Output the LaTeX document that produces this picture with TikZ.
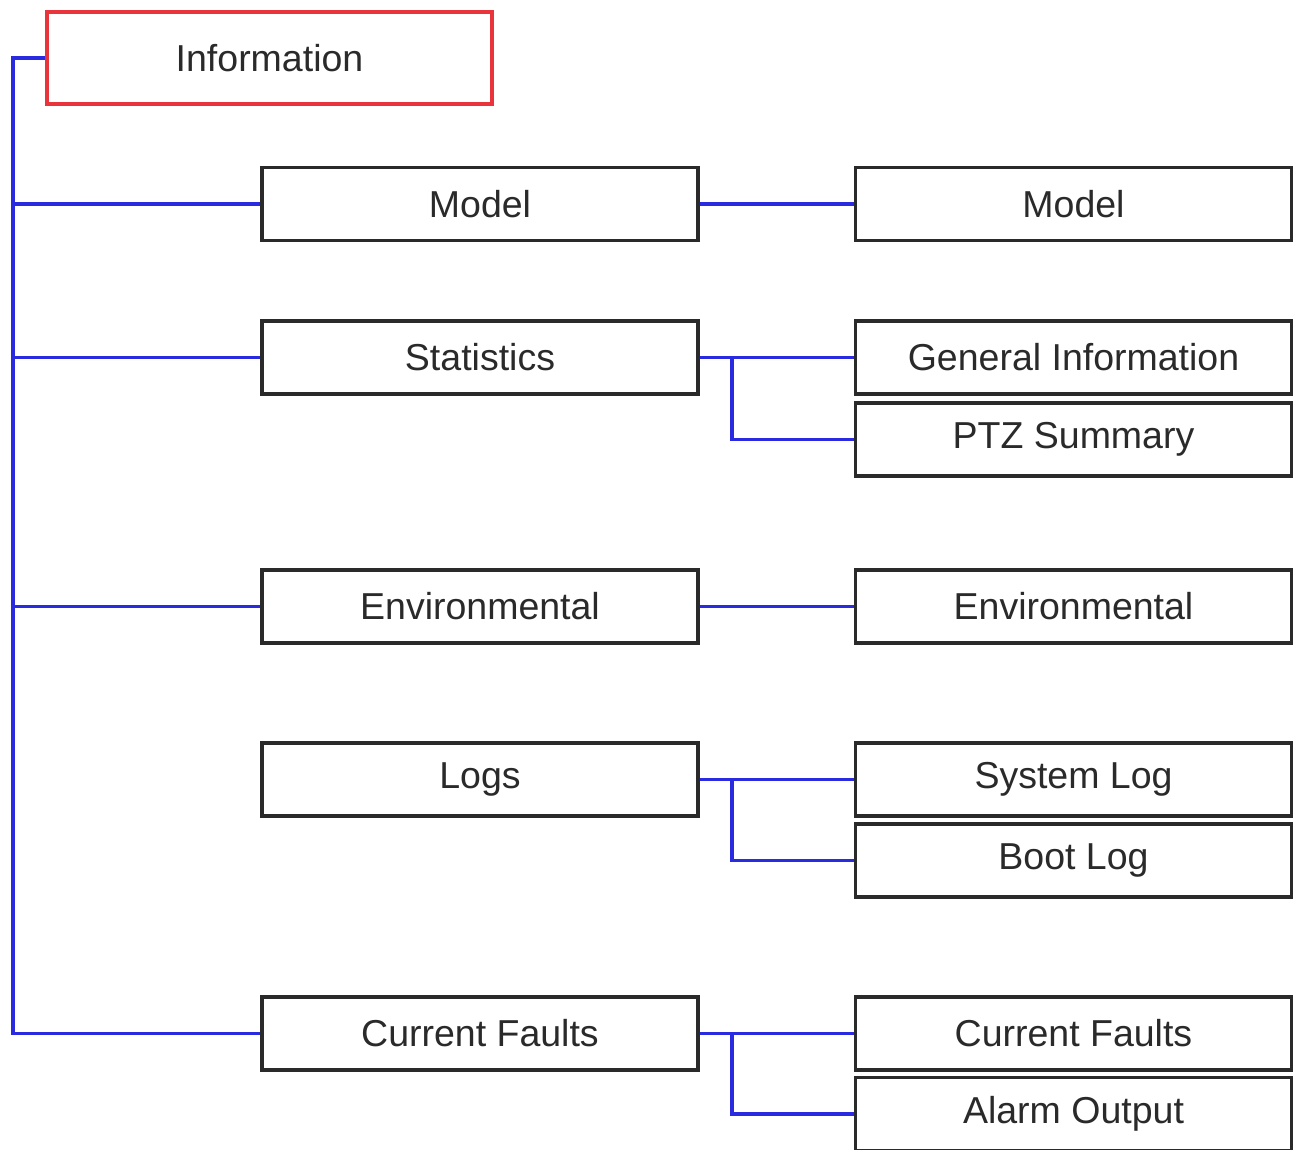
\documentclass[tikz,border=0pt]{standalone}
\usepackage{fontspec}
\setmainfont{Liberation Sans}
\definecolor{boxline}{HTML}{2A2A2A}
\definecolor{txt}{HTML}{2A2A2A}
\definecolor{redline}{HTML}{E8343A}
\definecolor{blueline}{HTML}{2A2AE0}
\begin{document}
\begin{tikzpicture}[x=1pt,y=-1pt,
  box/.style={draw=boxline,line width=3.2pt,minimum width=436pt,minimum height=73pt,
    inner sep=0pt,font=\fontsize{37.5}{42}\selectfont,text=txt,fill=white},
  rootbox/.style={box,draw=redline,minimum width=445pt,minimum height=92pt},
  conn/.style={draw=blueline,line width=3.2pt,line join=miter}]
\useasboundingbox (0,0) rectangle (1293,1150);
\node[rootbox] (info) at (269.5,58) {Information};
\node[box] (model) at (480,204) {Model};
\node[box] (stat) at (480,357.5) {Statistics};
\node[box] (env) at (480,606.5) {Environmental};
\node[box] (logs) at (480,779.5) {Logs};
\node[box] (cf) at (480,1033.5) {Current Faults};
\node[box] (rmodel) at (1073.5,204) {Model};
\node[box] (gen) at (1073.5,357.5) {General Information};
\node[box] (ptz) at (1073.5,439.5) {PTZ Summary};
\node[box] (renv) at (1073.5,606.5) {Environmental};
\node[box] (sys) at (1073.5,779.5) {System Log};
\node[box] (boot) at (1073.5,860.5) {Boot Log};
\node[box] (rcf) at (1073.5,1033.5) {Current Faults};
\node[box] (alarm) at (1073.5,1114) {Alarm Output};
\coordinate (trunk) at (13,0);
\coordinate (br) at (732,0);
\draw[conn] (info.west) -| (trunk |- cf.west) -- (cf.west);
\draw[conn] (trunk |- model.west) -- (model.west);
\draw[conn] (trunk |- stat.west) -- (stat.west);
\draw[conn] (trunk |- env.west) -- (env.west);
\draw[conn] (model.east) -- (rmodel.west);
\draw[conn] (env.east) -- (renv.west);
\draw[conn] (stat.east) -- (gen.west);
\draw[conn] (br |- stat.east) |- (ptz.west);
\draw[conn] (logs.east) -- (sys.west);
\draw[conn] (br |- logs.east) |- (boot.west);
\draw[conn] (cf.east) -- (rcf.west);
\draw[conn] (br |- cf.east) |- (alarm.west);
\end{tikzpicture}
\end{document}
